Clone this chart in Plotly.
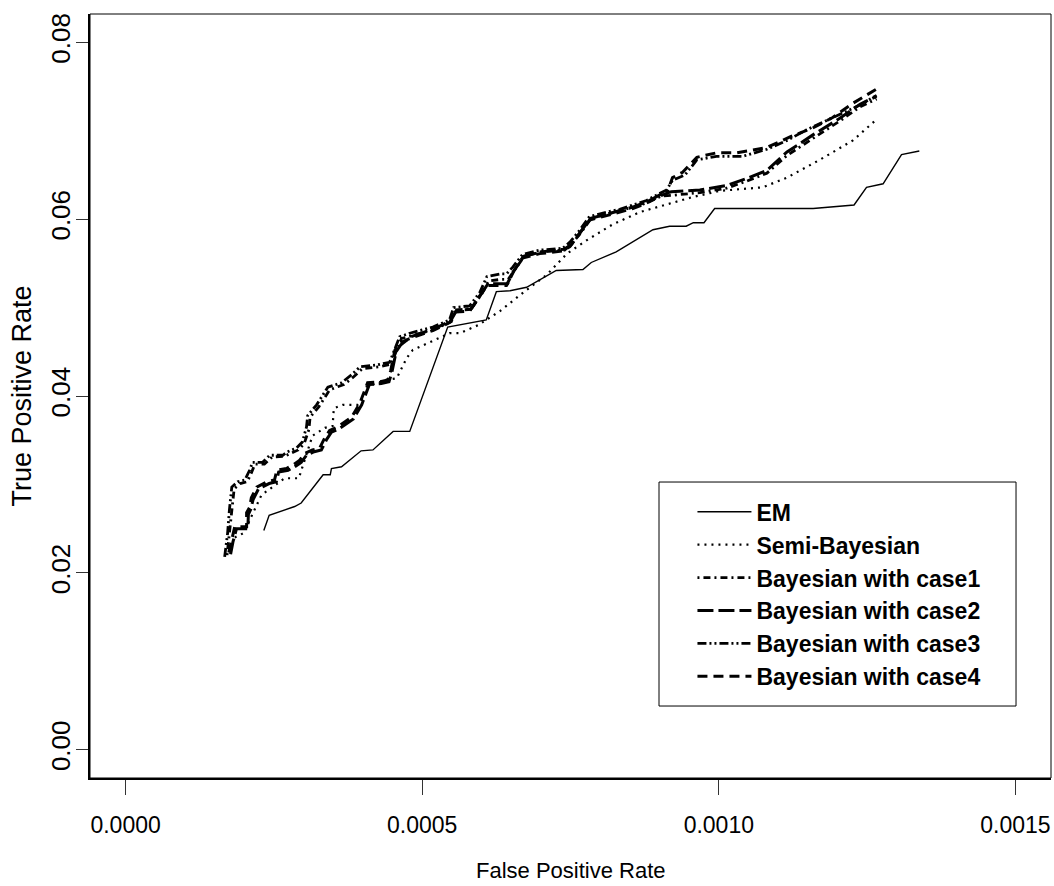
import plotly.graph_objects as go

# ---------------- data ----------------
X_TICKS = [0.0, 0.0005, 0.0010, 0.0015]
X_TICK_TEXT = ["0.0000", "0.0005", "0.0010", "0.0015"]
Y_TICKS = [0.00, 0.02, 0.04, 0.06, 0.08]
Y_TICK_TEXT = ["0.00", "0.02", "0.04", "0.06", "0.08"]

SERIES_NAMES = ["EM", "Semi-Bayesian", "Bayesian with case1", "Bayesian with case2",
                "Bayesian with case3", "Bayesian with case4"]

EM_FPR = [0.000233, 0.000242, 0.000285, 0.000296, 0.000333, 0.000345, 0.000347, 0.000364,
          0.000397, 0.000417, 0.000451, 0.000479, 0.000543, 0.000608, 0.000625, 0.000648,
          0.000676, 0.000726, 0.000771, 0.000785, 0.000827, 0.000889, 0.000917, 0.000945,
          0.000957, 0.000975, 0.000993, 0.001159, 0.001228, 0.001249, 0.001277, 0.001308,
          0.001338]
EM_TPR = [0.0248, 0.0265, 0.0275, 0.0279, 0.0311, 0.0311, 0.0318, 0.0320,
          0.0338, 0.0339, 0.0360, 0.0360, 0.0478, 0.0486, 0.0518, 0.0519,
          0.0523, 0.0542, 0.0543, 0.0551, 0.0563, 0.0588, 0.0592, 0.0592,
          0.0596, 0.0596, 0.0612, 0.0612, 0.0616, 0.0636, 0.0640, 0.0673,
          0.0677]

SEMI_FPR = [0.000184, 0.000199, 0.000229, 0.000246, 0.000268, 0.000292, 0.000315, 0.000336,
            0.000349, 0.000351, 0.000366, 0.000391, 0.000398, 0.000406, 0.000437, 0.000457,
            0.000474, 0.000484, 0.000509, 0.000526, 0.000546, 0.000563, 0.000594, 0.000631,
            0.000676, 0.000710, 0.000744, 0.000777, 0.000821, 0.000867, 0.000912, 0.000956,
            0.001002, 0.001074, 0.001115, 0.001170, 0.001226, 0.001268]
SEMI_TPR = [0.0240, 0.0245, 0.0288, 0.0296, 0.0307, 0.0307, 0.0355, 0.0364,
            0.0366, 0.0386, 0.0390, 0.0390, 0.0395, 0.0410, 0.0418, 0.0420,
            0.0443, 0.0452, 0.0460, 0.0465, 0.0471, 0.0471, 0.0480, 0.0496,
            0.0520, 0.0537, 0.0561, 0.0576, 0.0594, 0.0608, 0.0617, 0.0625,
            0.0632, 0.0636, 0.0647, 0.0667, 0.0689, 0.0714]

CASE1_FPR = [0.000171, 0.000173, 0.000176, 0.000179, 0.000183, 0.000193, 0.000205, 0.000212,
             0.000218, 0.000234, 0.000247, 0.000268, 0.000277, 0.000291, 0.000301, 0.000309,
             0.000311, 0.000326, 0.000344, 0.000368, 0.000385, 0.000399, 0.000427, 0.000448,
             0.000457, 0.000465, 0.000482, 0.000521, 0.000549, 0.000556, 0.000583, 0.000600,
             0.000612, 0.000634, 0.000645, 0.000656, 0.000672, 0.000701, 0.000740, 0.000752,
             0.000768, 0.000785, 0.000814, 0.000836, 0.000858, 0.000881, 0.000903, 0.000922,
             0.000968, 0.001013, 0.001047, 0.001081, 0.001115, 0.001158, 0.001204, 0.001238,
             0.001266]
CASE1_TPR = [0.0220, 0.0232, 0.0248, 0.0272, 0.0295, 0.0301, 0.0303, 0.0313,
             0.0323, 0.0323, 0.0331, 0.0332, 0.0335, 0.0339, 0.0346, 0.0362,
             0.0376, 0.0388, 0.0407, 0.0413, 0.0422, 0.0431, 0.0433, 0.0436,
             0.0452, 0.0465, 0.0468, 0.0476, 0.0484, 0.0497, 0.0499, 0.0515,
             0.0530, 0.0532, 0.0532, 0.0543, 0.0558, 0.0563, 0.0565, 0.0572,
             0.0585, 0.0601, 0.0606, 0.0610, 0.0614, 0.0619, 0.0626, 0.0627,
             0.0630, 0.0635, 0.0643, 0.0652, 0.0672, 0.0691, 0.0711, 0.0727,
             0.0736]

CASE2_FPR = [0.000177, 0.000181, 0.000187, 0.000206, 0.000207, 0.000211, 0.000215, 0.000224,
             0.000242, 0.000254, 0.000258, 0.000274, 0.000285, 0.000296, 0.000305, 0.000318,
             0.000330, 0.000339, 0.000347, 0.000360, 0.000384, 0.000398, 0.000411, 0.000431,
             0.000444, 0.000449, 0.000456, 0.000464, 0.000481, 0.000520, 0.000548, 0.000558,
             0.000582, 0.000599, 0.000611, 0.000633, 0.000644, 0.000655, 0.000671, 0.000700,
             0.000739, 0.000751, 0.000767, 0.000784, 0.000813, 0.000835, 0.000857, 0.000880,
             0.000902, 0.000920, 0.000968, 0.001013, 0.001047, 0.001081, 0.001115, 0.001158,
             0.001204, 0.001238, 0.001266]
CASE2_TPR = [0.0221, 0.0235, 0.0250, 0.0250, 0.0266, 0.0272, 0.0283, 0.0295,
             0.0301, 0.0303, 0.0314, 0.0316, 0.0320, 0.0325, 0.0333, 0.0337,
             0.0339, 0.0351, 0.0359, 0.0363, 0.0374, 0.0390, 0.0413, 0.0414,
             0.0416, 0.0427, 0.0450, 0.0458, 0.0467, 0.0476, 0.0485, 0.0497,
             0.0498, 0.0515, 0.0527, 0.0527, 0.0527, 0.0542, 0.0558, 0.0563,
             0.0566, 0.0571, 0.0585, 0.0601, 0.0606, 0.0610, 0.0614, 0.0620,
             0.0628, 0.0631, 0.0633, 0.0638, 0.0646, 0.0655, 0.0676, 0.0695,
             0.0714, 0.0730, 0.0739]

CASE3_FPR = [0.000167, 0.000169, 0.000172, 0.000175, 0.000179, 0.000189, 0.000201, 0.000209,
             0.000214, 0.000231, 0.000243, 0.000265, 0.000273, 0.000288, 0.000298, 0.000305,
             0.000307, 0.000322, 0.000341, 0.000364, 0.000381, 0.000395, 0.000423, 0.000445,
             0.000454, 0.000462, 0.000479, 0.000518, 0.000546, 0.000553, 0.000580, 0.000597,
             0.000609, 0.000631, 0.000642, 0.000653, 0.000669, 0.000698, 0.000737, 0.000749,
             0.000765, 0.000782, 0.000811, 0.000833, 0.000855, 0.000878, 0.000900, 0.000912,
             0.000922, 0.000943, 0.000963, 0.000996, 0.001040, 0.001081, 0.001115, 0.001148,
             0.001199, 0.001238, 0.001266]
CASE3_TPR = [0.0218, 0.0229, 0.0245, 0.0271, 0.0297, 0.0303, 0.0305, 0.0316,
             0.0325, 0.0325, 0.0333, 0.0333, 0.0337, 0.0341, 0.0348, 0.0365,
             0.0378, 0.0390, 0.0410, 0.0415, 0.0424, 0.0433, 0.0435, 0.0438,
             0.0454, 0.0467, 0.0471, 0.0478, 0.0486, 0.0500, 0.0502, 0.0517,
             0.0535, 0.0538, 0.0538, 0.0546, 0.0560, 0.0565, 0.0567, 0.0574,
             0.0587, 0.0603, 0.0608, 0.0611, 0.0616, 0.0621, 0.0629, 0.0633,
             0.0644, 0.0650, 0.0667, 0.0671, 0.0671, 0.0679, 0.0689, 0.0701,
             0.0717, 0.0729, 0.0740]

CASE4_FPR = [0.000174, 0.000179, 0.000184, 0.000204, 0.000204, 0.000209, 0.000212, 0.000221,
             0.000239, 0.000251, 0.000255, 0.000271, 0.000282, 0.000293, 0.000302, 0.000315,
             0.000327, 0.000336, 0.000344, 0.000357, 0.000381, 0.000395, 0.000408, 0.000428,
             0.000442, 0.000447, 0.000454, 0.000462, 0.000479, 0.000518, 0.000546, 0.000556,
             0.000580, 0.000597, 0.000609, 0.000631, 0.000642, 0.000653, 0.000669, 0.000698,
             0.000737, 0.000749, 0.000765, 0.000782, 0.000811, 0.000833, 0.000855, 0.000878,
             0.000900, 0.000912, 0.000922, 0.000939, 0.000963, 0.000996, 0.001030, 0.001081,
             0.001120, 0.001158, 0.001192, 0.001226, 0.001268]
CASE4_TPR = [0.0223, 0.0237, 0.0252, 0.0252, 0.0268, 0.0274, 0.0285, 0.0297,
             0.0303, 0.0305, 0.0316, 0.0318, 0.0322, 0.0327, 0.0335, 0.0339,
             0.0341, 0.0353, 0.0361, 0.0365, 0.0376, 0.0392, 0.0415, 0.0416,
             0.0418, 0.0429, 0.0452, 0.0460, 0.0465, 0.0474, 0.0483, 0.0495,
             0.0496, 0.0513, 0.0525, 0.0525, 0.0525, 0.0540, 0.0556, 0.0561,
             0.0564, 0.0569, 0.0583, 0.0599, 0.0604, 0.0608, 0.0612, 0.0618,
             0.0626, 0.0629, 0.0647, 0.0653, 0.0670, 0.0675, 0.0675, 0.0681,
             0.0693, 0.0703, 0.0715, 0.0731, 0.0748]

SERIES_X = [EM_FPR, SEMI_FPR, CASE1_FPR, CASE2_FPR, CASE3_FPR, CASE4_FPR]
SERIES_Y = [EM_TPR, SEMI_TPR, CASE1_TPR, CASE2_TPR, CASE3_TPR, CASE4_TPR]
for xs, ys in zip(SERIES_X, SERIES_Y):
    assert len(xs) == len(ys), (len(xs), len(ys))

# ---------------- styles ----------------
LINE_STYLES = [
    dict(width=1.4, dash="solid"),
    dict(width=2.2, dash="2px,5px"),
    dict(width=2.8, dash="2px,4px,7px,4px"),
    dict(width=3.0, dash="16px,5px"),
    dict(width=2.8, dash="9px,3px,2px,3px,2px,3px"),
    dict(width=3.0, dash="10px,6px"),
]

FONT = "Liberation Sans, Arial, sans-serif"

fig = go.Figure()
for name, xs, ys, st in zip(SERIES_NAMES, SERIES_X, SERIES_Y, LINE_STYLES):
    fig.add_trace(go.Scatter(x=xs, y=ys, mode="lines", name=name, legendgroup=name,
                             line=dict(color="black", width=st["width"], dash=st["dash"])))

fig.update_layout(
    width=1054, height=886,
    margin=dict(l=90, r=3, t=14, b=108),
    paper_bgcolor="white", plot_bgcolor="white",
    showlegend=True,
    legend=dict(x=0.6269, y=0.3765, xanchor="left", yanchor="top",
                bgcolor="rgba(0,0,0,0)", borderwidth=0,
                font=dict(family=FONT, size=23, color="black", weight="bold"),
                itemwidth=54, tracegroupgap=0),
    shapes=[
        dict(type="rect", xref="paper", yref="paper", x0=0, x1=1, y0=0, y1=1,
             line=dict(color="black", width=1)),
        dict(type="rect", xref="paper", yref="paper", x0=0.5921, x1=0.9636, y0=0.0942, y1=0.3874,
             line=dict(color="black", width=1)),
    ],
    annotations=[
        dict(text="False Positive Rate", xref="paper", yref="paper", x=0.5, y=-0.1217,
             xanchor="center", yanchor="middle", showarrow=False,
             font=dict(family=FONT, size=22, color="black")),
        dict(text="True Positive Rate", xref="paper", yref="paper", x=-0.0712, y=0.5,
             xanchor="center", yanchor="middle", showarrow=False, textangle=-90,
             font=dict(family=FONT, size=27, color="black")),
    ],
)

fig.update_xaxes(range=[-0.00006, 0.00156], tickvals=X_TICKS, ticktext=X_TICK_TEXT,
                 showgrid=False, zeroline=False, showline=True, linewidth=2, linecolor="black",
                 ticks="outside", ticklen=15, tickwidth=1, tickcolor="#333",
                 tickfont=dict(family=FONT, size=23, color="black"), ticklabelstandoff=10)
fig.update_yaxes(range=[-0.0032, 0.0832], tickvals=Y_TICKS, ticktext=Y_TICK_TEXT,
                 showgrid=False, zeroline=False, showline=True, linewidth=2, linecolor="black",
                 ticks="outside", ticklen=12, tickwidth=1, tickcolor="#333", tickangle=-90,
                 tickfont=dict(family=FONT, size=26, color="black"), ticklabelstandoff=-4)

fig.write_html("out.html")
